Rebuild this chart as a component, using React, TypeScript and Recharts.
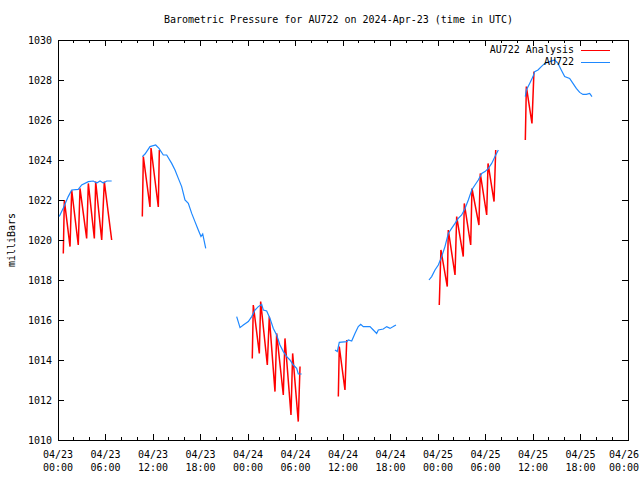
import { LineChart, Line, XAxis, YAxis, ReferenceArea } from "recharts";

// observed pressure (hours since 04/23 00:00 UTC), null = gap
const obsHours = [
  0.16, 0.67, 1.29, 1.73, 2.56, 2.99, 3.83, 4.46, 4.89, 5.31, 5.73, 6.15, 6.78,
  8,
  10.65, 10.99, 11.62, 12.34, 12.76, 13.3, 13.73, 14.36, 14.78, 15.2, 15.62, 16.04, 16.46, 16.89, 17.3, 17.72, 18.06, 18.28, 18.66,
  20,
  22.57, 22.99, 23.41, 24.04, 24.47, 24.88, 25.3, 25.73, 25.93, 26.36, 26.78, 27.2, 27.62, 28.04, 28.46, 28.89, 29.3, 29.72, 30.15, 30.35, 30.78,
  33,
  34.99, 35.28, 35.53, 36.47, 36.67, 37.1, 37.51, 37.93, 38.24, 38.56, 39.41, 39.83, 40.25, 40.46, 41.09, 41.52, 41.94, 42.35, 42.69,
  45,
  46.86, 47.2, 47.62, 48.04, 48.46, 48.88, 49.3, 49.72, 50.15, 50.56, 50.99, 51.41, 51.83, 52.26, 52.67, 53.09, 53.52, 53.94, 54.36, 54.78, 55.2, 55.62,
  57,
  59.03, 59.16, 59.58, 60.0, 60.21, 60.63, 61.05, 61.48, 62.1, 62.74, 63.16, 63.57, 64.0, 64.63, 65.05, 65.47, 65.9, 66.31, 66.73, 67.16, 67.45,
];
const obsPressure = [
  1021.17, 1021.6, 1022.17, 1022.5, 1022.53, 1022.75, 1022.92, 1022.95, 1022.85, 1022.95, 1022.85, 1022.95, 1022.95,
  null,
  1024.17, 1024.3, 1024.67, 1024.75, 1024.58, 1024.25, 1024.25, 1023.83, 1023.5, 1023.08, 1022.67, 1022.0, 1021.83, 1021.33, 1020.92, 1020.5, 1020.17, 1020.3, 1019.58,
  null,
  1016.17, 1015.62, 1015.75, 1015.92, 1016.17, 1016.5, 1016.67, 1016.78, 1016.5, 1016.45, 1016.08, 1015.58, 1015.25, 1014.75, 1014.42, 1014.17, 1014.0, 1013.75, 1013.58, 1013.3, 1013.3,
  null,
  1014.5, 1014.42, 1014.88, 1014.92, 1015.0, 1014.95, 1015.33, 1015.67, 1015.78, 1015.67, 1015.67, 1015.5, 1015.33, 1015.5, 1015.55, 1015.67, 1015.58, 1015.67, 1015.75,
  null,
  1018.0, 1018.17, 1018.5, 1018.75, 1019.17, 1019.67, 1020.33, 1020.58, 1020.83, 1021.08, 1021.25, 1021.58, 1022.0, 1022.5, 1022.75, 1023.0, 1023.33, 1023.42, 1023.58, 1023.83, 1024.17, 1024.5,
  null,
  1027.17, 1027.5, 1027.83, 1028.17, 1028.42, 1028.5, 1028.67, 1028.83, 1028.92, 1029.0, 1028.83, 1028.5, 1028.17, 1028.08, 1027.83, 1027.58, 1027.38, 1027.28, 1027.28, 1027.33, 1027.17,
];

// analysis runs (sawtooth)
const anaHours = [
  0.67, 0.8, 1.52, 1.73, 2.56, 2.78, 3.62, 3.83, 4.59, 4.76, 5.52, 5.85, 6.78,
  8,
  10.65, 10.78, 11.62, 11.75, 12.67, 12.8,
  20,
  24.54, 24.67, 25.43, 25.6, 26.44, 26.69, 27.41, 27.62, 28.46, 28.67, 29.43, 29.64, 30.35, 30.57,
  33,
  35.41, 35.53, 36.25, 36.47,
  45,
  48.16, 48.37, 49.17, 49.3, 50.15, 50.36, 51.19, 51.32, 52.13, 52.29, 53.17, 53.34, 54.15, 54.32, 55.08, 55.29,
  57,
  59.03, 59.16, 59.87, 60.12,
];
const anaPressure = [
  1019.33, 1022.0, 1019.67, 1022.5, 1019.75, 1022.58, 1020.08, 1022.83, 1020.08, 1022.92, 1020.0, 1022.92, 1020.0,
  null,
  1021.17, 1024.17, 1021.65, 1024.6, 1021.65, 1024.5,
  null,
  1014.08, 1016.75, 1014.33, 1016.92, 1013.75, 1016.17, 1012.42, 1015.33, 1012.25, 1015.08, 1011.25, 1014.33, 1010.92, 1013.67,
  null,
  1012.17, 1014.67, 1012.5, 1015.0,
  null,
  1016.75, 1019.5, 1017.67, 1020.5, 1018.25, 1021.17, 1019.17, 1021.83, 1019.75, 1022.58, 1020.75, 1023.33, 1021.25, 1023.83, 1021.92, 1024.5,
  null,
  1025.0, 1027.67, 1025.83, 1028.42,
];

const hourTicks = [0, 2, 4, 6, 8, 10, 12, 14, 16, 18, 20, 22, 24, 26, 28, 30, 32, 34, 36, 38, 40, 42, 44, 46, 48, 50, 52, 54, 56, 58, 60, 62, 64, 66, 68, 70, 72];
const dayLabels = ["04/23", "04/23", "04/23", "04/23", "04/24", "04/24", "04/24", "04/24", "04/25", "04/25", "04/25", "04/25", "04/26"];
const timeLabels = ["00:00", "06:00", "12:00", "18:00", "00:00", "06:00", "12:00", "18:00", "00:00", "06:00", "12:00", "18:00", "00:00"];
const pressureTicks = [1010, 1012, 1014, 1016, 1018, 1020, 1022, 1024, 1026, 1028, 1030];

const analysisData = anaHours.map((t, i) => ({ t, p: anaPressure[i] }));
const obsData = obsHours.map((t, i) => ({ t, p: obsPressure[i] }));

const FONT = "'DejaVu Sans Mono', 'Liberation Mono', monospace";
const RED = "#ff0000";
const BLUE = "#1e88ff";

// plot frame (chart is fixed 640x480, margins below)
const FRAME = { left: 58, top: 40, right: 628, bottom: 440 };

function BottomTick(props: any) {
  const { x, payload } = props;
  const major = payload.value % 6 === 0;
  const len = major ? 6 : 3;
  const i = payload.value / 6;
  const last = i === dayLabels.length - 1;
  const tx = last ? 639 : x;
  return (
    <g>
      <line x1={x} y1={FRAME.bottom} x2={x} y2={FRAME.bottom - len} stroke="#000" shapeRendering="crispEdges" />
      <line x1={x} y1={FRAME.top} x2={x} y2={FRAME.top + len} stroke="#000" shapeRendering="crispEdges" />
      {major && (
        <text x={tx} y={FRAME.bottom} textAnchor={last ? "end" : "middle"} fontFamily={FONT} fontSize={10} fill="#000">
          <tspan x={tx} dy={18}>{dayLabels[i]}</tspan>
          <tspan x={tx} dy={13}>{timeLabels[i]}</tspan>
        </text>
      )}
    </g>
  );
}

function LeftTick(props: any) {
  const { y, payload } = props;
  return (
    <g>
      <line x1={FRAME.left} y1={y} x2={FRAME.left + 6} y2={y} stroke="#000" shapeRendering="crispEdges" />
      <line x1={FRAME.right} y1={y} x2={FRAME.right - 6} y2={y} stroke="#000" shapeRendering="crispEdges" />
      <text x={FRAME.left - 6} y={y} dy={4} textAnchor="end" fontFamily={FONT} fontSize={10} fill="#000">
        {payload.value}
      </text>
    </g>
  );
}

const textStyle = { fontFamily: FONT, fontSize: 10, color: "#000", lineHeight: "12px", whiteSpace: "pre" as const };

export default function App() {
  return (
    <div style={{ position: "absolute", left: 0, top: 0, width: 640, height: 480, background: "#fff" }}>
      <LineChart width={640} height={480} margin={{ top: 40, right: 12, bottom: 0, left: 8 }}>
        <XAxis
          dataKey="t"
          type="number"
          domain={[0, 72]}
          ticks={hourTicks}
          interval={0}
          allowDataOverflow
          height={40}
          tickLine={false}
          axisLine={false}
          tick={(p: any) => <BottomTick {...p} />}
        />
        <YAxis
          type="number"
          domain={[1010, 1030]}
          ticks={pressureTicks}
          interval={0}
          allowDataOverflow
          width={50}
          tickLine={false}
          axisLine={false}
          tick={(p: any) => <LeftTick {...p} />}
        />
        <ReferenceArea
          x1={0}
          x2={72}
          y1={1010}
          y2={1030}
          fill="none"
          fillOpacity={0}
          stroke="#000"
          strokeWidth={1}
          shapeRendering="crispEdges"
        />
        <Line
          data={analysisData}
          dataKey="p"
          type="linear"
          stroke={RED}
          strokeWidth={1.5}
          dot={false}
          activeDot={false}
          connectNulls={false}
          isAnimationActive={false}
        />
        <Line
          data={obsData}
          dataKey="p"
          type="linear"
          stroke={BLUE}
          strokeWidth={1.2}
          dot={false}
          activeDot={false}
          connectNulls={false}
          isAnimationActive={false}
        />
      </LineChart>

      {/* title */}
      <div style={{ ...textStyle, position: "absolute", top: 14, left: 0, width: 677, textAlign: "center" }}>
        Barometric Pressure for AU722 on 2024-Apr-23 (time in UTC)
      </div>

      {/* y label */}
      <div
        style={{
          ...textStyle,
          position: "absolute",
          left: 12,
          top: 240,
          transform: "translate(-50%, -50%) rotate(-90deg)",
        }}
      >
        milliBars
      </div>

      {/* legend */}
      <div style={{ position: "absolute", left: 400, top: 44, width: 210 }}>
        {[
          { label: "AU722 Analysis", color: RED, w: 1.5 },
          { label: "AU722", color: BLUE, w: 1.2 },
        ].map((row) => (
          <div key={row.label} style={{ display: "flex", justifyContent: "flex-end", alignItems: "center", height: 12 }}>
            <span style={textStyle}>{row.label}</span>
            <div style={{ width: 29, marginLeft: 7, borderTop: `${row.w}px solid ${row.color}` }} />
          </div>
        ))}
      </div>
    </div>
  );
}
